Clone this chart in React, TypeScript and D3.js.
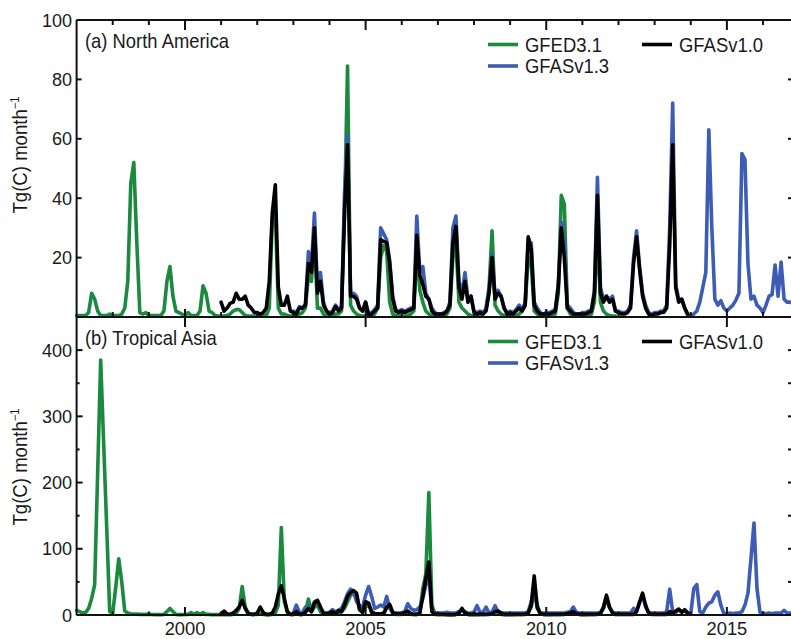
import React from 'react';
import * as d3 from 'd3';

// ---------- data (monthly, Tg(C) month^-1) ----------
const GFED_START = 1997;
const GFAS10_START = 2001;
const GFAS13_START = 2003;

// North America
const NA_GFED31 = [
  0.5, 0.5, 0.5, 0.5, 1.5, 8, 6, 2, 0.5, 0.5, 0.5, 1, // 1997
  0.5, 0.5, 0.5, 1, 3, 12, 45, 52, 25, 1.5, 1, 1.5, // 1998
  0.5, 0.5, 0.5, 0.5, 0.5, 2, 12, 17, 7, 2, 1.5, 1, // 1999
  0.5, 1.5, 0.5, 0.5, 0.5, 2, 10.5, 8, 2, 1.5, 0.5, 0.3, // 2000
  0.3, 0.3, 0.5, 1, 2, 2.5, 2.5, 1.5, 0.5, 0.3, 0.3, 0.3, // 2001
  0.3, 0.3, 0.3, 0.5, 3, 33, 36, 3, 1, 1, 0.5, 0.3, // 2002
  0.3, 0.3, 1, 1.5, 3, 14, 12, 27, 3, 3, 1, 0.5, // 2003
  0.3, 0.5, 1, 1, 2, 35, 84.5, 4, 2, 1, 0.5, 0.3, // 2004
  0.3, 0.3, 0.5, 1, 3, 20, 24, 22, 5, 1, 0.5, 0.3, // 2005
  0.3, 0.3, 0.5, 1, 2, 22, 9, 5, 2, 1, 0.5, 0.3, // 2006
  0.3, 0.3, 0.5, 1, 3, 20, 25, 5, 3, 2, 1, 0.5, // 2007
  0.3, 0.3, 0.5, 1, 3, 10, 29, 4, 2, 1, 0.5, 0.3, // 2008
  0.3, 0.3, 0.5, 1, 2, 4, 20, 18, 2, 1, 0.5, 0.3, // 2009
  0.3, 0.3, 0.5, 1, 8, 41, 38, 3, 1, 0.5, 0.3, 0.3, // 2010
  0.3, 0.3, 0.5, 1, 5, 30, 5, 2, 1, 0.5, 0.3, 0.3, // 2011
];
const NA_GFAS10 = [
  5, 2, 3, 4.6, 5, 8, 6, 6, 7, 4, 3, 1.5, // 2001
  1.5, 1, 1.5, 3, 12, 35, 44.5, 10, 4, 4, 7, 2, // 2002
  1.5, 1, 3, 3, 4, 18, 15, 30, 8, 12, 4, 2, // 2003
  1, 1.5, 3.5, 2, 3, 35, 58, 7, 7, 6, 3, 2, // 2004
  5, 0.5, 1, 2, 3, 26, 25.5, 25, 18, 6, 2, 1.5, // 2005
  2, 1.5, 2, 2.5, 3, 27.5, 14, 11, 7, 6, 2, 1, // 2006
  1, 1, 1, 2, 4, 25, 30.5, 10, 6, 12, 5, 7, // 2007
  1.5, 1, 1.5, 1, 2, 8, 20, 6, 8, 7, 3, 1, // 2008
  1.5, 1, 2, 3, 2, 4, 27, 23, 4, 2, 1, 1, // 2009
  1, 1, 1.5, 2, 10, 30, 20, 3, 2, 1, 1, 1, // 2010
  1, 1, 1.5, 2, 8, 41, 8, 5, 7, 5, 6, 2, // 2011
  1.5, 1, 1, 1.5, 3, 18, 27, 16, 7, 3, 1, 0.5, // 2012
  1, 1, 1.5, 1.5, 3, 24, 58, 10, 5, 6, 3, 1, // 2013
];
const NA_GFAS13 = [
  2, 1.5, 3.5, 3, 4, 22, 17, 35, 10, 15, 5, 2, // 2003
  1.5, 2, 4, 2.5, 3.5, 42, 61, 8, 8, 7, 3, 2, // 2004
  5, 1, 1.5, 2.5, 4, 30, 28, 26, 19, 7, 2.5, 2, // 2005
  2.5, 2, 2.5, 3, 3.5, 34, 15, 17, 8, 6, 3, 1.5, // 2006
  1, 1, 1.5, 2, 5, 30, 34, 12, 8, 15, 6, 7, // 2007
  2, 1.5, 2, 1.5, 2.5, 9, 21, 7, 9, 7, 3, 1.5, // 2008
  2, 1.5, 2.5, 4, 2.5, 5, 25, 25, 5, 3, 1.5, 1, // 2009
  1.5, 1.5, 2, 2.5, 11, 32, 25, 4, 3, 1.5, 1, 1, // 2010
  1.5, 1.5, 2, 2.5, 9, 47, 10, 6, 7, 6, 7, 2, // 2011
  2, 1.5, 1.5, 2, 4, 20, 29, 17, 8, 4, 1.5, 1, // 2012
  1.5, 1.5, 2, 2, 4, 30, 72, 11, 6, 6, 3, 0.5, // 2013
  0.5, 1, 2, 5, 10, 15, 63, 30, 6, 4, 5.5, 3, // 2014
  2, 3, 4, 5.7, 8, 55, 53, 18, 6, 7, 4, 3, // 2015
  1.5, 4, 7, 7.5, 17.5, 7, 18.5, 6, 5, 5, 4.5, 4, // 2016
];

// Tropical Asia
const TA_GFED31 = [
  7, 5, 3, 4, 10, 25, 46, 216, 385, 258, 132, 5, // 1997
  3, 42, 85, 50, 6, 3, 2, 1.5, 1.5, 1, 1, 1, // 1998
  1, 1, 0.5, 0.5, 0.5, 1, 5, 10, 5, 1, 0.5, 0.5, // 1999
  1, 1, 3.5, 1, 3.5, 1, 3.5, 1, 1, 0.5, 0.5, 0.5, // 2000
  0.5, 0.5, 0.5, 0.5, 1, 2, 10, 43, 12, 3, 1, 1, // 2001
  1, 2, 1, 0.5, 0.5, 1, 3, 15, 132, 20, 4, 1, // 2002
  1, 3, 1, 1, 5, 24, 5, 12, 15, 5, 2, 1, // 2003
  2, 3, 1, 2, 5, 10, 20, 30, 33, 28, 8, 5, // 2004
  12, 15, 6, 2, 2, 2, 3, 10, 14, 4, 1, 1, // 2005
  1, 2, 3, 1, 1, 1, 3, 40, 62, 185, 15, 2, // 2006
  1, 1, 1, 1, 0.5, 0.5, 1, 3, 9, 3, 1, 0.5, // 2007
  0.5, 0.5, 1, 1, 1, 2, 5, 6.5, 4, 1, 0.5, 0.5, // 2008
  0.5, 0.5, 1, 1, 1, 2, 3, 12, 35, 15, 2, 1, // 2009
  0.5, 0.5, 1, 1, 1, 1, 2, 3, 5, 8, 3, 1, // 2010
  0.5, 0.5, 1, 1, 1, 2, 3, 10, 24, 12, 4, 1, // 2011
];
const TA_GFAS10 = [
  2, 6, 1.5, 1, 3, 7, 12, 22, 10, 2, 1, 1, // 2001
  3, 12, 3.5, 1, 1, 3, 12, 32, 44, 25, 5, 1, // 2002
  1, 5, 1, 1, 4, 10, 5, 18, 22, 12, 3, 2, // 2003
  3, 5, 2, 7, 5, 15, 28, 34, 37, 33, 8, 4, // 2004
  20, 18, 4, 2, 2, 2, 2, 12, 16, 4, 2, 2, // 2005
  2, 4, 6, 2, 1, 1, 3, 28, 55, 80, 5, 1, // 2006
  1, 1, 1, 0.5, 0.5, 0.5, 1, 3, 10, 3, 1, 1, // 2007
  1, 1, 1, 1, 1, 1, 2, 5, 6, 3, 1, 1, // 2008
  1, 1, 1, 1, 1, 1, 3, 15, 59, 12, 2, 1, // 2009
  1, 1, 1, 1, 1, 1, 1, 2, 3, 5, 2, 1, // 2010
  1, 1, 1, 1, 1, 1, 2, 12, 30, 12, 3, 1, // 2011
  1, 1, 1, 1, 1, 1, 5, 20, 33, 15, 3, 1, // 2012
  1, 1, 1, 1, 1, 5, 3, 6, 9, 4, 8, 3, // 2013
];
const TA_GFAS13 = [
  3, 15, 4, 3, 12, 8, 10, 20, 22, 10, 3, 3, // 2003
  4, 8, 5, 7, 10, 20, 32, 39, 35, 20, 14, 12, // 2004
  30, 43, 28, 10, 12, 15, 12, 28, 10, 3, 3, 3, // 2005
  3, 5, 17, 10, 7, 8, 12, 25, 45, 60, 8, 3, // 2006
  3, 3, 3, 4, 3, 3, 3, 5, 8, 5, 3, 3, // 2007
  4, 14, 4, 4, 12, 3, 4, 14, 5, 3, 3, 3, // 2008
  3, 3, 3, 3, 3, 3, 5, 20, 42, 10, 3, 3, // 2009
  3, 3, 3, 3, 3, 3, 3, 4, 5, 12, 4, 3, // 2010
  3, 3, 3, 3, 3, 3, 4, 10, 26, 12, 4, 3, // 2011
  3, 3, 3, 3, 3, 10, 6, 18, 30, 12, 4, 3, // 2012
  3, 3, 3, 3, 5, 39, 5, 4, 8, 5, 6, 3, // 2013
  2, 40, 46, 5, 3, 12, 18, 20, 30, 35, 15, 2, // 2014
  2, 3, 2, 3, 3, 5, 15, 33, 85, 139, 40, 4, // 2015
  3, 2, 3, 2, 3, 3, 3, 7, 3, 3, 3, 3, // 2016
];

const SERIES_NAMES = ['GFED3.1', 'GFASv1.3', 'GFASv1.0'];
const SERIES_COLORS = ['#1b8a3f', '#3d5cb4', '#000000'];
const X_TICKS = d3.range(1998, 2017);
const X_LABELS = [2000, 2005, 2010, 2015];
const NA_Y_TICKS = [20, 40, 60, 80, 100];
const TA_Y_TICKS = [0, 100, 200, 300, 400];
const TA_Y_MINOR = [50, 150, 250, 350];
const Y_TITLE = 'Tg(C) month';

const FONT = '"Liberation Sans", Arial, Helvetica, sans-serif';

const W = 791;
const H = 639;
const L = 76.6;
const R = 793;

function T({ x, y, size, sx = 1, anchor = 'start', rotate = 0, children }: any) {
  const tr = `translate(${x},${y})${rotate ? ` rotate(${rotate})` : ''} scale(${sx},1)`;
  return (
    <text transform={tr} fontFamily={FONT} fontSize={size} textAnchor={anchor} fill="#1a1a1a">
      {children}
    </text>
  );
}

export default function App() {
  const x = d3.scaleLinear().domain([1997, 2016.83]).range([L, R]);
  const ya = d3.scaleLinear().domain([0, 100]).range([317, 20]);
  const yb = d3.scaleLinear().domain([0, 450]).range([615, 317]);

  const mk = (start: number, y: d3.ScaleLinear<number, number>) =>
    d3
      .line<number>()
      .x((_, i) => x(start + i / 12))
      .y((d) => y(d))
      .curve(d3.curveLinear);

  const panels = [
    {
      y: ya,
      top: 20,
      title: '(a) North America',
      data: [
        [GFED_START, NA_GFED31],
        [GFAS13_START, NA_GFAS13],
        [GFAS10_START, NA_GFAS10],
      ],
    },
    {
      y: yb,
      top: 317,
      title: '(b) Tropical Asia',
      data: [
        [GFED_START, TA_GFED31],
        [GFAS13_START, TA_GFAS13],
        [GFAS10_START, TA_GFAS10],
      ],
    },
  ];

  return (
    <svg width={W} height={H} style={{ position: 'absolute', left: 0, top: 0, background: '#fff' }}>
      <rect x={0} y={0} width={W} height={H} fill="#fff" />
      {/* series */}
      {panels.map((p, pi) => (
        <g key={pi}>
          {p.data.map(([start, vals]: any, si) => (
            <path
              key={si}
              d={mk(start, p.y)(vals) || ''}
              fill="none"
              stroke={SERIES_COLORS[si]}
              strokeWidth={3.6}
              strokeLinejoin="round"
              strokeLinecap="round"
            />
          ))}
        </g>
      ))}

      {/* frame */}
      <g stroke="#111" strokeWidth={2} fill="none">
        <line x1={L} x2={L} y1={20} y2={615} />
        <line x1={R} x2={R} y1={20} y2={615} />
        <line x1={L} x2={R + 5} y1={20} y2={20} />
        <line x1={L} x2={R + 5} y1={ya(0)} y2={ya(0)} />
        <line x1={L} x2={R + 5} y1={615} y2={615} />
      </g>

      {/* x ticks */}
      <g stroke="#111" strokeWidth={2}>
        {X_TICKS.map((yr) => {
          const major = yr % 5 === 0;
          const xx = x(yr);
          return (
            <g key={yr}>
              <line x1={xx} x2={xx} y1={20} y2={20 + (major ? 10 : 5)} />
              <line x1={xx} x2={xx} y1={317} y2={317 - (major ? 8 : 5)} />
              {major && <line x1={xx} x2={xx} y1={317} y2={327} />}
              <line x1={xx} x2={xx} y1={615} y2={615 - (major ? 8 : 3.5)} />
            </g>
          );
        })}
      </g>

      {/* y ticks */}
      <g stroke="#111" strokeWidth={2}>
        {NA_Y_TICKS.map((v) => (
          <g key={'a' + v}>
            <line x1={L} x2={L + 5} y1={ya(v)} y2={ya(v)} />
            <line x1={R - 5} x2={R} y1={ya(v)} y2={ya(v)} />
          </g>
        ))}
        {TA_Y_TICKS.map((v) => (
          <g key={'b' + v}>
            <line x1={L} x2={L + 6} y1={yb(v)} y2={yb(v)} />
            <line x1={R - 5} x2={R} y1={yb(v)} y2={yb(v)} />
          </g>
        ))}
        {TA_Y_MINOR.map((v) => (
          <g key={'bm' + v}>
            <line x1={L} x2={L + 3} y1={yb(v)} y2={yb(v)} />
            <line x1={R - 5} x2={R} y1={yb(v)} y2={yb(v)} />
          </g>
        ))}
      </g>

      {/* tick labels */}
      {NA_Y_TICKS.map((v) => (
        <T key={'la' + v} x={72} y={ya(v) + 6.6} size={19} sx={0.95} anchor="end">
          {v}
        </T>
      ))}
      {TA_Y_TICKS.map((v) => (
        <T key={'lb' + v} x={72} y={yb(v) + 6.6} size={19} sx={0.95} anchor="end">
          {v}
        </T>
      ))}
      {X_LABELS.map((v) => (
        <T key={'lx' + v} x={x(v)} y={635} size={18.5} sx={0.99} anchor="middle">
          {v}
        </T>
      ))}

      {/* y titles */}
      {[155, 467].map((cy, i) => (
        <T key={'yt' + i} x={27} y={cy} size={20} sx={0.93} anchor="middle" rotate={-90}>
          <tspan>{Y_TITLE}</tspan>
          <tspan dy={-8} fontSize={12}>
            −1
          </tspan>
        </T>
      ))}

      {/* panel titles + legends */}
      {panels.map((p, pi) => (
        <g key={'lg' + pi}>
          <T x={85} y={p.top + 28.3} size={20} sx={0.92}>
            {p.title}
          </T>
          {[
            { si: 0, lx: 488, ly: p.top + 24.5 },
            { si: 1, lx: 488, ly: p.top + 46 },
            { si: 2, lx: 642, ly: p.top + 24.5 },
          ].map((e) => (
            <g key={e.si}>
              <line
                x1={e.lx}
                x2={e.lx + 30}
                y1={e.ly}
                y2={e.ly}
                stroke={SERIES_COLORS[e.si]}
                strokeWidth={3.6}
              />
              <T x={e.lx + 37} y={e.ly + 7.4} size={20.5} sx={0.9}>
                {SERIES_NAMES[e.si]}
              </T>
            </g>
          ))}
        </g>
      ))}
    </svg>
  );
}
